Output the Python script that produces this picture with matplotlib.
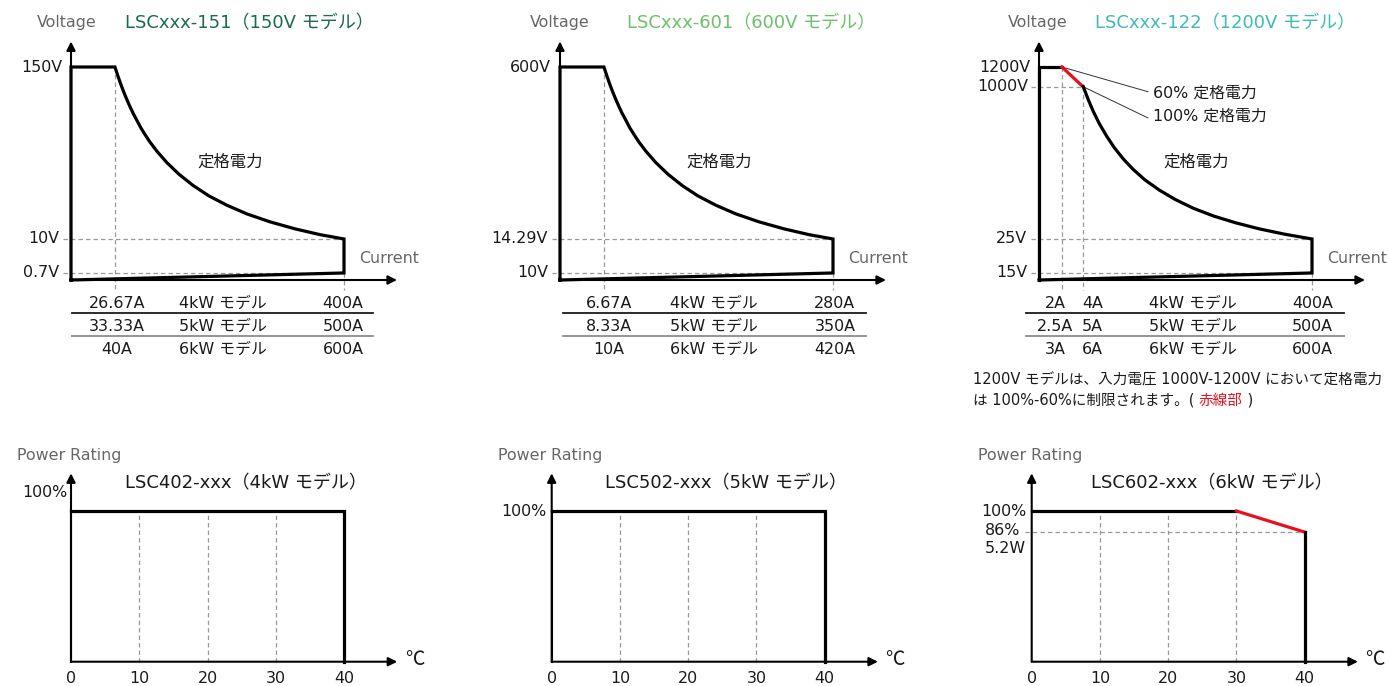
import matplotlib
matplotlib.use('Agg')
import matplotlib.pyplot as plt
from matplotlib.transforms import offset_copy

plt.rcParams['font.family'] = ['DejaVu Sans', 'Noto Sans CJK JP']

W, H, DPI = 1389, 686, 100
fig = plt.figure(figsize=(W / DPI, H / DPI), dpi=DPI)

# ------------------------------------------------------------------ data
v_titles = ['LSCxxx-151（150V モデル）', 'LSCxxx-601（600V モデル）', 'LSCxxx-122（1200V モデル）']
v_title_colors = ['#1b6b4c', '#6cc16a', '#3dbdb1']
v_max_labels = ['150V', '600V', '1200V']
v_end_labels = ['10V', '14.29V', '25V']
v_min_labels = ['0.7V', '10V', '15V']
v_mid_label_1200 = '1000V'

# schematic levels (fraction of the voltage-axis height)
lvl_max = 1.0
lvl_mid_1200 = 0.908
lvl_end = 0.1925
lvl_min = 0.033
# schematic current positions (fraction of the current-axis length)
knee_pos = 0.161
knee60_pos = 0.084

# constant power curve (schematic)
curve_x = [0.161, 0.172, 0.183, 0.194, 0.205, 0.216, 0.227, 0.242, 0.256, 0.271,
           0.289, 0.315, 0.352, 0.396, 0.447, 0.505, 0.571, 0.645, 0.729, 0.821,
           0.912, 1.0]
curve_y = [1.000, 0.957, 0.917, 0.880, 0.846, 0.814, 0.784, 0.748, 0.714, 0.683,
           0.648, 0.604, 0.550, 0.496, 0.444, 0.395, 0.351, 0.310, 0.273, 0.240,
           0.213, 0.1925]
curve1200_x = [0.162, 0.181, 0.199, 0.221, 0.247, 0.276, 0.309, 0.345, 0.389,
               0.441, 0.499, 0.565, 0.638, 0.719, 0.807, 0.902, 1.0]
curve1200_y = [0.908, 0.845, 0.791, 0.734, 0.677, 0.621, 0.568, 0.519, 0.469,
               0.422, 0.378, 0.337, 0.301, 0.269, 0.240, 0.2145, 0.1925]

table_151 = [['26.67A', '4kW モデル', '400A'],
             ['33.33A', '5kW モデル', '500A'],
             ['40A', '6kW モデル', '600A']]
table_601 = [['6.67A', '4kW モデル', '280A'],
             ['8.33A', '5kW モデル', '350A'],
             ['10A', '6kW モデル', '420A']]
table_122 = [['2A', '4A', '4kW モデル', '400A'],
             ['2.5A', '5A', '5kW モデル', '500A'],
             ['3A', '6A', '6kW モデル', '600A']]

p_titles = ['LSC402-xxx（4kW モデル）', 'LSC502-xxx（5kW モデル）', 'LSC602-xxx（6kW モデル）']
temp_ticks = [0, 10, 20, 30, 40]
temp_4k = [0, 40]
power_4k = [100, 100]
temp_6k_flat = [0, 30]
power_6k_flat = [100, 100]
temp_6k_derate = [30, 40]
power_6k_derate = [100, 86]

note_line1 = '1200V モデルは、入力電圧 1000V-1200V において定格電力'
note_line2a = 'は 100%-60%に制限されます。( '
note_line2b = '赤線部'
note_line2c = ' )'

# ------------------------------------------------------------------ styles
FS = 11.4
FS_TITLE = 13
FS_NOTE = 10.5
GRAY_TXT = '#666666'
DASH_C = '#999999'
RED = '#e8101e'
TXT = '#1a1a1a'
THICK = 2.3
AXLW = 1.5


def px(ax, dx, dy=0):
    return offset_copy(ax.transData, fig=fig, x=dx, y=dy, units='dots')


def arrow(ax, x0, y0, x1, y1):
    ax.annotate('', xy=(x1, y1), xytext=(x0, y0), annotation_clip=False,
                arrowprops=dict(arrowstyle='-|>', color='black', lw=AXLW,
                                shrinkA=0, shrinkB=0, mutation_scale=13))


def dashed(ax, xs, ys):
    ax.plot(xs, ys, color=DASH_C, lw=0.9, dashes=(3.5, 2.5), clip_on=False, zorder=1)


# ------------------------------------------------------------------ top panels
top_origins = [71, 560, 1039]
AX_W, AX_H, AX_Y0 = 273, 213, 280
voltage_label_dx = [-34, -30, -31]
title_x = [0.198, 0.244, 0.205]
tables = [table_151, table_601, table_122]
col_centers = [[0.168, 0.557, 0.996], [0.179, 0.564, 1.007], [0.059, 0.196, 0.564, 1.002]]
line_spans = [(0.004, 1.106), (0.011, 1.121), (-0.048, 1.117)]
row_y = [-0.108, -0.216, -0.324]
sep_y = [-0.156, -0.263]
sep_colors = ['#1a1a1a', '#8c8c8c']

for i, ox in enumerate(top_origins):
    ax = fig.add_axes([ox / W, (H - AX_Y0) / H, AX_W / W, AX_H / H])
    ax.set_xlim(0, 1)
    ax.set_ylim(0, 1)
    ax.axis('off')

    # axes arrows
    arrow(ax, 0, 0, 0, 1.12)
    arrow(ax, 0, 0, 1.194, 0)

    # axis titles
    ax.text(0, 1.207, 'Voltage', transform=px(ax, voltage_label_dx[i]), fontsize=FS,
            color=GRAY_TXT, ha='left', va='center')
    ax.text(title_x[i], 1.207, v_titles[i], fontsize=FS_TITLE, color=v_title_colors[i],
            ha='left', va='center')
    ax.text(1.055, 0.103, 'Current', fontsize=FS, color=GRAY_TXT, ha='left', va='center',
            clip_on=False)

    # dashed guides
    if i < 2:
        dashed(ax, [knee_pos, knee_pos], [lvl_max, -0.047])
    else:
        dashed(ax, [knee60_pos, knee60_pos], [lvl_max, -0.047])
        dashed(ax, [knee_pos, knee_pos], [lvl_mid_1200, -0.047])
        dashed(ax, [-0.029, knee_pos], [lvl_mid_1200, lvl_mid_1200])
    dashed(ax, [-0.029, 1.0], [lvl_end, lvl_end])
    dashed(ax, [-0.029, 1.0], [lvl_min, lvl_min])
    dashed(ax, [1.0, 1.0], [lvl_min, -0.047])

    # output range outline
    if i < 2:
        xs = [0, 0, knee_pos] + curve_x + [1.0, 0]
        ys = [0, lvl_max, lvl_max] + curve_y + [lvl_min, 0]
        ax.plot(xs, ys, color='black', lw=THICK, solid_joinstyle='miter', clip_on=False, zorder=3)
    else:
        ax.plot([0, 0, knee60_pos], [0, lvl_max, lvl_max], color='black', lw=THICK,
                solid_joinstyle='miter', clip_on=False, zorder=3)
        ax.plot([knee60_pos, knee_pos], [lvl_max, lvl_mid_1200], color=RED, lw=THICK,
                clip_on=False, zorder=3)
        ax.plot(curve1200_x + [1.0, 0], curve1200_y + [lvl_min, 0], color='black',
                lw=THICK, solid_joinstyle='miter', clip_on=False, zorder=3)
        # leader lines
        ax.plot([knee60_pos, 0.399], [lvl_max, 0.884], color='#333333', lw=0.7, clip_on=False)
        ax.plot([knee_pos, 0.399], [lvl_mid_1200, 0.761], color='#333333', lw=0.7, clip_on=False)
        ax.text(0.418, 0.879, '60% 定格電力', fontsize=FS, color=TXT, ha='left', va='center')
        ax.text(0.418, 0.767, '100% 定格電力', fontsize=FS, color=TXT, ha='left', va='center')
        ax.text(0, lvl_mid_1200, v_mid_label_1200, transform=px(ax, -11), fontsize=FS,
                color=TXT, ha='right', va='center')

    ax.text(0.462 if i < 2 else 0.454, 0.554, '定格電力', fontsize=11.8, color=TXT,
            ha='left', va='center')

    # voltage labels
    ax.text(0, lvl_max, v_max_labels[i], transform=px(ax, -9), fontsize=FS, color=TXT,
            ha='right', va='center')
    ax.text(0, lvl_end, v_end_labels[i], transform=px(ax, -12), fontsize=FS, color=TXT,
            ha='right', va='center')
    ax.text(0, lvl_min, v_min_labels[i], transform=px(ax, -12), fontsize=FS, color=TXT,
            ha='right', va='center')

    # table
    for r, row in enumerate(tables[i]):
        for c, cell in enumerate(row):
            ax.text(col_centers[i][c], row_y[r], cell, fontsize=FS, color=TXT,
                    ha='center', va='center')
    for s, yv in enumerate(sep_y):
        ax.plot(line_spans[i], [yv, yv], color=sep_colors[s], lw=1.3, clip_on=False)

    if i == 2:
        ax.text(-0.243, -0.469, note_line1, fontsize=FS_NOTE, color=TXT, ha='left', va='center')
        t1 = ax.text(-0.243, -0.563, note_line2a, fontsize=FS_NOTE, color=TXT,
                     ha='left', va='center')
        t2 = ax.annotate(note_line2b, xy=(1, 0), xycoords=t1, fontsize=FS_NOTE, color=RED,
                         ha='left', va='bottom')
        ax.annotate(note_line2c, xy=(1, 0), xycoords=t2, fontsize=FS_NOTE, color=TXT,
                    ha='left', va='bottom')

# ------------------------------------------------------------------ bottom panels
bot_origins = [71, 551.7, 1031.7]
B_W, B_H, B_Y0 = 273, 150.7, 661.7
p_title_x = [7.9, 7.8, 8.7]

for i, ox in enumerate(bot_origins):
    ax = fig.add_axes([ox / W, (H - B_Y0) / H, B_W / W, B_H / H])
    ax.set_xlim(0, 40)
    ax.set_ylim(0, 100)
    ax.axis('off')

    arrow(ax, 0, 0, 0, 125)
    arrow(ax, 0, 0, 47.8, 0)

    ax.text(0, 136.5, 'Power Rating', transform=px(ax, -54), fontsize=FS,
            color=GRAY_TXT, ha='left', va='center')
    ax.text(p_title_x[i], 118.6, p_titles[i], fontsize=FS_TITLE, color=TXT,
            ha='left', va='center')
    ax.text(48.9, 1.5, '℃', fontsize=14, color=TXT, ha='left', va='center',
            family=['Noto Sans CJK JP'])

    for t in temp_ticks[1:4]:
        dashed(ax, [t, t], [0, 100])

    if i < 2:
        ax.plot(temp_4k + [temp_4k[-1]], power_4k + [0], color='black', lw=THICK,
                solid_joinstyle='miter', clip_on=False, zorder=3)
        ax.plot([0, 0], [0, power_4k[0]], color='black', lw=AXLW, clip_on=False, zorder=3)
    else:
        dashed(ax, [-1.0, 40], [power_6k_derate[-1], power_6k_derate[-1]])
        ax.plot(temp_6k_flat, power_6k_flat, color='black', lw=THICK, clip_on=False, zorder=3)
        ax.plot(temp_6k_derate, power_6k_derate, color=RED, lw=THICK, clip_on=False, zorder=3)
        ax.plot([temp_6k_derate[-1], temp_6k_derate[-1]], [power_6k_derate[-1], 0],
                color='black', lw=THICK, clip_on=False, zorder=3)

    if i == 0:
        ax.text(0, 112, '100%', transform=px(ax, -4), fontsize=FS, color=TXT,
                ha='right', va='center')
    else:
        ax.text(0, 100, '100%', transform=px(ax, -5), fontsize=FS, color=TXT,
                ha='right', va='center')
    if i == 2:
        ax.text(0, 87, '86%', transform=px(ax, -47), fontsize=FS, color=TXT,
                ha='left', va='center')
        ax.text(0, 75, '5.2W', transform=px(ax, -47), fontsize=FS, color=TXT,
                ha='left', va='center')

    for t in temp_ticks:
        ax.text(t, 0, str(t), transform=px(ax, 0, -17), fontsize=FS, color=TXT,
                ha='center', va='center')

fig.savefig('out.png', dpi=DPI)
